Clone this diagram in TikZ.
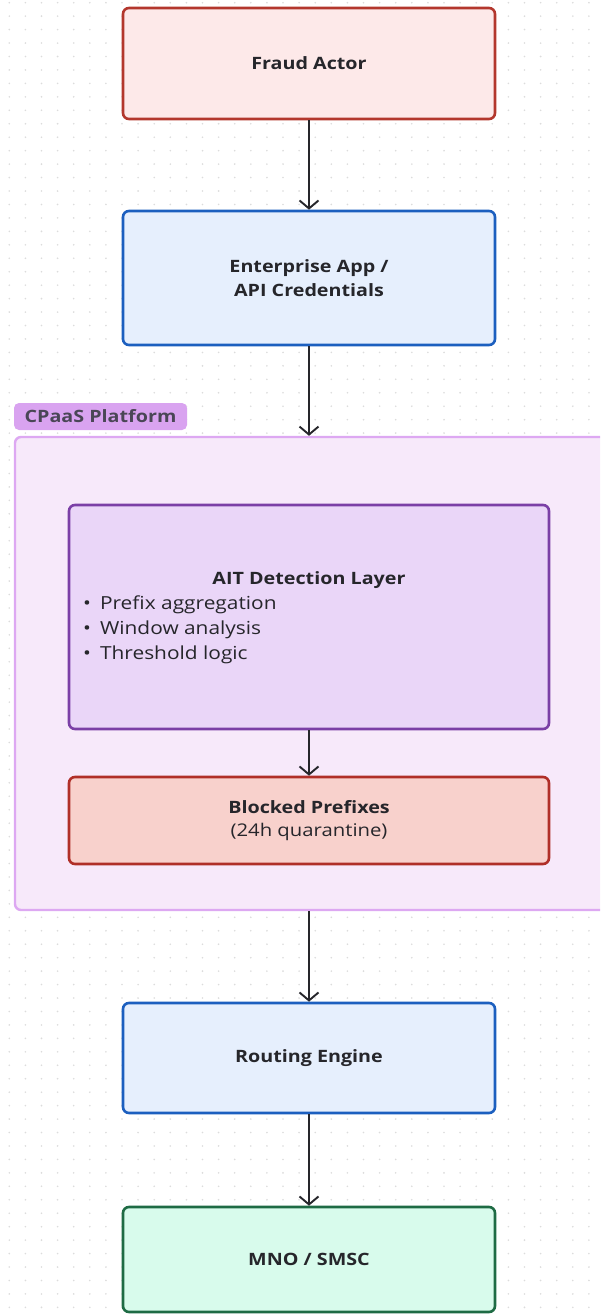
\documentclass[tikz,border=0pt]{standalone}
\usepackage{fontspec}
\setmainfont[FakeStretch=1.16]{Open Sans}
\usetikzlibrary{arrows.meta,positioning,calc}

\definecolor{dotgray}{HTML}{DCDCDC}
\definecolor{inkdark}{HTML}{26262B}
\definecolor{redfill}{HTML}{FDE9E9}
\definecolor{redline}{HTML}{B3372D}
\definecolor{bluefill}{HTML}{E6EFFD}
\definecolor{blueline}{HTML}{1C5FBF}
\definecolor{groupfill}{HTML}{F7E9FA}
\definecolor{groupline}{HTML}{DDA8F2}
\definecolor{tagfill}{HTML}{D9A3F0}
\definecolor{tagtext}{HTML}{4A4656}
\definecolor{aitfill}{HTML}{EAD6F8}
\definecolor{aitline}{HTML}{7B3FA6}
\definecolor{blockfill}{HTML}{F8D1CC}
\definecolor{blockline}{HTML}{B02F28}
\definecolor{greenfill}{HTML}{D8FBEC}
\definecolor{greenline}{HTML}{1E6B44}

\tikzset{
  box/.style={draw, line width=2.6pt, rounded corners=6pt, inner sep=0pt,
    font=\fontsize{17}{24}\selectfont\bfseries, text=inkdark, align=center},
  redbox/.style={box, fill=redfill, draw=redline},
  bluebox/.style={box, fill=bluefill, draw=blueline},
  greenbox/.style={box, fill=greenfill, draw=greenline},
  flow/.style={draw=inkdark, line width=1.9pt,
    -{Straight Barb[length=8pt,width=19pt,line width=1.9pt]}},
  plain/.style={font=\fontsize{18}{25}\selectfont, text=inkdark, inner sep=0pt}
}

\begin{document}
\begin{tikzpicture}[x=1pt,y=-1pt]
  % page area, white background with a faint dot grid
  \clip (0,0) rectangle (600,1314);
  \fill[white] (0,0) rectangle (600,1314);
  \foreach \i in {0,...,37} {
    \foreach \j in {0,...,97} {
      \fill[dotgray] ({9.3+16.1*\i},{2.7+13.45*\j}) circle (0.9);
    }
  }

  % top of the chain
  \node[redbox, minimum width=372, minimum height=111] (fraud) at (309,63.5) {Fraud Actor};
  \node[bluebox, minimum width=372, minimum height=134] (app) at (309,278) {Enterprise App /\\API Credentials};

  % platform group and its tag
  \node[draw=groupline, fill=groupfill, line width=2.4pt, rounded corners=6pt,
        minimum width=610, minimum height=473, inner sep=0pt] (cpaas) at (320,673.5) {};
  \node[fill=tagfill, rounded corners=5pt, minimum width=173, minimum height=27, inner sep=0pt,
        font=\fontsize{17}{20}\selectfont\bfseries, text=tagtext] (tag) at (100.5,416.5) {CPaaS Platform};

  % detection layer
  \node[draw=aitline, fill=aitfill, line width=2.6pt, rounded corners=6pt,
        minimum width=480, minimum height=224, inner sep=0pt] (ait) at (309,617) {};
  \node[plain, font=\fontsize{17}{22}\selectfont\bfseries] (aittitle) at (309,580) {AIT Detection Layer};
  \node[plain, anchor=west] (b1) at (83,605) {•\hspace{9pt}Prefix aggregation};
  \node[plain, anchor=west] (b2) at (83,630) {•\hspace{9pt}Window analysis};
  \node[plain, anchor=west] (b3) at (83,655) {•\hspace{9pt}Threshold logic};

  \node[box, fill=blockfill, draw=blockline, minimum width=480, minimum height=87] (blocked) at (309,820.5)
    {Blocked Prefixes\\[-1pt]{\mdseries\fontsize{17.5}{24}\selectfont (24h quarantine)}};

  % bottom of the chain
  \node[bluebox, minimum width=372, minimum height=110] (route) at (309,1058) {Routing Engine};
  \node[greenbox, minimum width=372, minimum height=105] (mno) at (309,1259.5) {MNO / SMSC};

  % connectors
  \draw[flow] (fraud.south) -- (app.north);
  \draw[flow] (app.south) -- (app.south |- cpaas.north);
  \draw[flow] (ait.south) -- (blocked.north);
  \draw[flow] (route.north |- cpaas.south) -- (route.north);
  \draw[flow] (route.south) -- (mno.north);
\end{tikzpicture}
\end{document}
